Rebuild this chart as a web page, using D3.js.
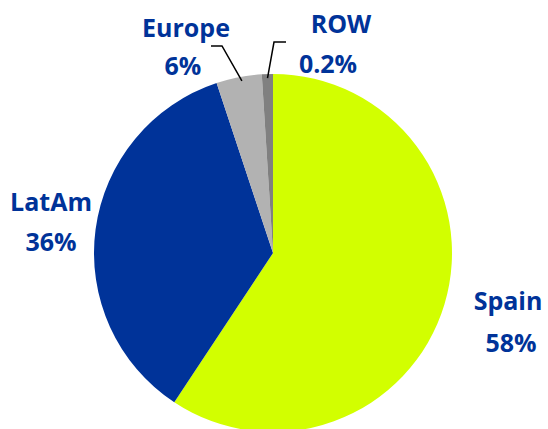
<!DOCTYPE html>
<html>
<head>
<meta charset="utf-8">
<script src="https://cdn.jsdelivr.net/npm/d3@7"></script>
<style>
  html, body { margin: 0; padding: 0; background: #fff; }
  svg { display: block; }
  text { font-family: "Open Sans", "DejaVu Sans", sans-serif; font-weight: 700; fill: #003399; }
</style>
</head>
<body>
<svg id="chart" width="548" height="429"></svg>
<script>
// Slice sizes (clockwise from 12 o'clock)
const categories = ["Spain", "LatAm", "Europe", "ROW"];
const sliceValues = [59.3, 35.6, 4.1, 1.0];
const labelTexts = ["58%", "36%", "6%", "0.2%"];
const colors = ["#D2FF00", "#003399", "#B2B2B2", "#808080"];

const svg = d3.select("#chart");
const cx = 273, cy = 253, r = 179;

const pie = d3.pie().sort(null).value(d => d)(sliceValues);
const arc = d3.arc().innerRadius(0).outerRadius(r);

const g = svg.append("g").attr("transform", `translate(${cx},${cy})`);
g.selectAll("path").data(pie).join("path")
  .attr("d", arc)
  .attr("fill", (d, i) => colors[i]);

// Label positions
const labelPos = [
  { name: [508, 310], pct: [511, 352] },
  { name: [51, 211], pct: [51, 251] },
  { name: [186, 37], pct: [183, 75] },
  { name: [341, 33], pct: [328, 73] }
];

categories.forEach((c, i) => {
  svg.append("text").attr("x", labelPos[i].name[0]).attr("y", labelPos[i].name[1])
    .attr("text-anchor", "middle").attr("font-size", 25).text(c);
  svg.append("text").attr("x", labelPos[i].pct[0]).attr("y", labelPos[i].pct[1])
    .attr("text-anchor", "middle").attr("font-size", 25).text(labelTexts[i]);
});

// Leader lines for small slices
const leader = d3.line();
function edgePoint(d, frac) {
  const a = d.startAngle + (d.endAngle - d.startAngle) * frac;
  return [cx + Math.sin(a) * (r - 4), cy - Math.cos(a) * (r - 4)];
}
const eu = pie[2], row = pie[3];
svg.append("path")
  .attr("d", leader([[211, 46], [222, 46], edgePoint(eu, 0.55)]))
  .attr("fill", "none").attr("stroke", "#000").attr("stroke-width", 1.5);
svg.append("path")
  .attr("d", leader([[286, 42], [274, 42], edgePoint(row, 0.5)]))
  .attr("fill", "none").attr("stroke", "#000").attr("stroke-width", 1.5);
</script>
</body>
</html>
